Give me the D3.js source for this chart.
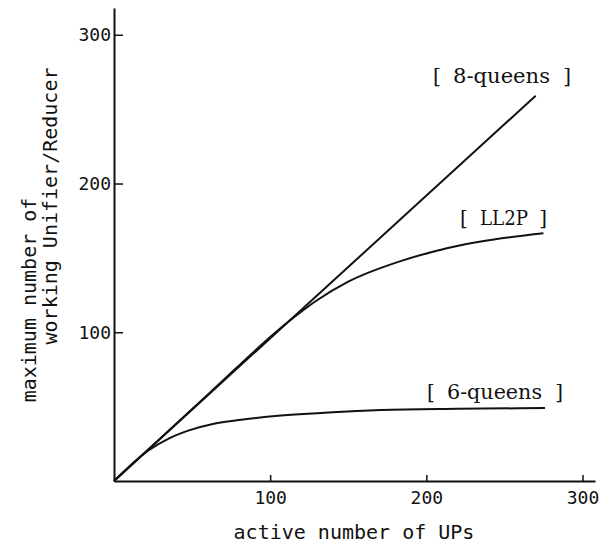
<!DOCTYPE html>
<html>
<head>
<meta charset="utf-8">
<script src="https://cdn.jsdelivr.net/npm/d3@7"></script>
<style>
  html, body { margin: 0; padding: 0; background: #fff; }
  svg { display: block; }
  .tick text { font-family: "DejaVu Sans Mono", monospace; font-size: 18px; fill: #111; }
  .axis-title { font-family: "DejaVu Sans Mono", monospace; font-size: 20px; fill: #111; }
  .series-label { font-family: "DejaVu Serif", serif; font-size: 20px; fill: #111; }
</style>
</head>
<body>
<svg id="chart" width="612" height="544"></svg>
<script>
// values (x = active UPs, y = working Unifier/Reducer)
const queens8X = [0, 270];
const queens8Y = [0, 259];

const ll2pX = [0, 60, 111, 130, 150, 184, 203, 216, 235, 275];
const ll2pY = [0, 58, 106.5, 121.5, 134, 148, 153.8, 157.2, 161, 166.5];

const queens6X = [0, 22, 35, 48, 64, 80, 107, 140, 171, 220, 276];
const queens6Y = [0, 20.5, 28.5, 34, 38.5, 41, 44, 46.3, 47.7, 48.5, 49];

const xTicks = [100, 200, 300];
const yTicks = [100, 200, 300];

const seriesNames = ["8-queens", "LL2P", "6-queens"];

const svg = d3.select("#chart");

const x = d3.scaleLinear().domain([0, 308]).range([114, 595]);
const y = d3.scaleLinear().domain([0, 318]).range([481, 8]);

// axes: ticks point inward, like the typed original
const xAxis = d3.axisBottom(x)
  .tickValues(xTicks)
  .tickSizeInner(-6)
  .tickSizeOuter(0)
  .tickPadding(10);

const yAxis = d3.axisLeft(y)
  .tickValues(yTicks)
  .tickSizeInner(-9)
  .tickSizeOuter(0)
  .tickPadding(3);

const gx = svg.append("g")
  .attr("transform", `translate(0,${y(0)})`)
  .call(xAxis);

const gy = svg.append("g")
  .attr("transform", `translate(${x(0)},0)`)
  .call(yAxis);

[gx, gy].forEach(g => {
  g.select(".domain").attr("stroke", "#111").attr("stroke-width", 2);
  g.selectAll(".tick line").attr("stroke", "#111").attr("stroke-width", 1.5);
});

// curves
const zip = (xs, ys) => xs.map((v, i) => [v, ys[i]]);
const line = d3.line()
  .x(d => x(d[0]))
  .y(d => y(d[1]))
  .curve(d3.curveMonotoneX);

const series = [zip(queens8X, queens8Y), zip(ll2pX, ll2pY), zip(queens6X, queens6Y)];

svg.append("g")
  .selectAll("path")
  .data(series)
  .join("path")
  .attr("d", line)
  .attr("fill", "none")
  .attr("stroke", "#111")
  .attr("stroke-width", 2);

// bracketed labels, placed above the end of each curve
const labelPos = [
  { left: 433, name: 453, nameW: 97, right: 571, base: 83 },
  { left: 460, name: 480, nameW: 48, right: 547, base: 225 },
  { left: 427, name: 447, nameW: 95, right: 563, base: 399 },
];

seriesNames.forEach((name, i) => {
  const p = labelPos[i];
  const g = svg.append("g").attr("class", "series-label");
  g.append("text").attr("x", p.left).attr("y", p.base).text("[");
  g.append("text")
    .attr("x", p.name).attr("y", p.base)
    .attr("textLength", p.nameW)
    .attr("lengthAdjust", "spacingAndGlyphs")
    .text(name);
  g.append("text").attr("x", p.right).attr("y", p.base)
    .attr("text-anchor", "end").text("]");
});

// axis titles
svg.append("text")
  .attr("class", "axis-title")
  .attr("x", 354)
  .attr("y", 539)
  .attr("text-anchor", "middle")
  .text("active number of UPs");

svg.append("text")
  .attr("class", "axis-title")
  .attr("transform", "translate(36,300) rotate(-90)")
  .attr("text-anchor", "middle")
  .text("maximum number of");

svg.append("text")
  .attr("class", "axis-title")
  .attr("transform", "translate(57,206) rotate(-90)")
  .attr("text-anchor", "middle")
  .text("working Unifier/Reducer");
</script>
</body>
</html>
